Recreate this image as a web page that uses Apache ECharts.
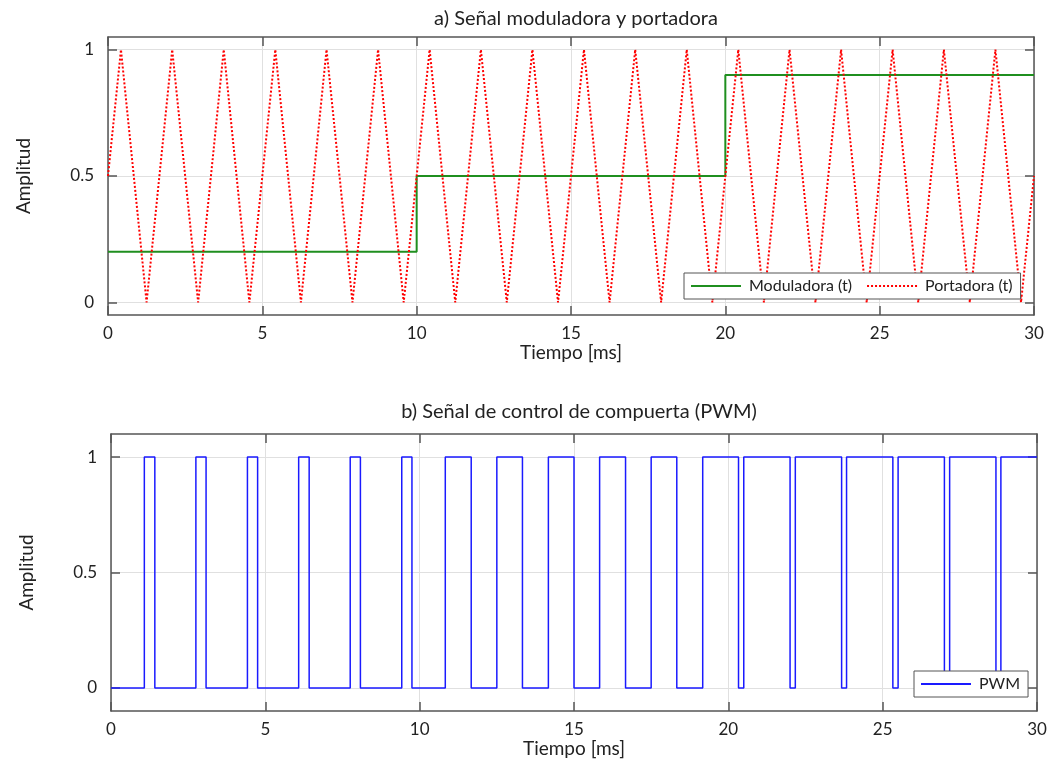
<!DOCTYPE html>
<html>
<head>
<meta charset="utf-8">
<script src="https://cdn.jsdelivr.net/npm/echarts@6/dist/echarts.min.js"></script>
<style>
  html, body { margin: 0; padding: 0; background: #fff; }
  #main { width: 1050px; height: 765px; }
</style>
</head>
<body>
<div id="main"></div>
<script>
// datos
const xTicks = [0, 5, 10, 15, 20, 25, 30];
const yTicks = [0, 0.5, 1];

// moduladora: escalones
const modT = [0, 10, 10, 20, 20, 30];
const modV = [0.2, 0.2, 0.5, 0.5, 0.9, 0.9];

// portadora: vertices del triangulo
const carrierT = [0, 0.42, 1.25, 2.08, 2.92, 3.75, 4.58, 5.42, 6.25, 7.08, 7.92, 8.75, 9.58,
  10.42, 11.25, 12.08, 12.92, 13.75, 14.58, 15.42, 16.25, 17.08, 17.92, 18.75, 19.58,
  20.42, 21.25, 22.08, 22.92, 23.75, 24.58, 25.42, 26.25, 27.08, 27.92, 28.75, 29.58, 30];
const carrierV = [0.5, 1, 0, 1, 0, 1, 0, 1, 0, 1, 0, 1, 0,
  1, 0, 1, 0, 1, 0, 1, 0, 1, 0, 1, 0,
  1, 0, 1, 0, 1, 0, 1, 0, 1, 0, 1, 0, 0.5];

// PWM: flancos de subida y bajada
const pwmRise = [1.08, 2.75, 4.42, 6.08, 7.75, 9.42, 10.83, 12.5, 14.17, 15.83, 17.5, 19.17,
  20.5, 22.17, 23.83, 25.5, 27.17, 28.83];
const pwmFall = [1.42, 3.08, 4.75, 6.42, 8.08, 9.75, 11.67, 13.33, 15.0, 16.67, 18.33, 20.33,
  22.0, 23.67, 25.33, 27.0, 28.67];

const modData = modT.map((t, i) => [t, modV[i]]);
const carrierData = carrierT.map((t, i) => [t, carrierV[i]]);

let pwmData = [[0, 0]];
pwmRise.forEach((r, i) => {
  pwmData.push([r, 0], [r, 1]);
  if (i < pwmFall.length) {
    pwmData.push([pwmFall[i], 1], [pwmFall[i], 0]);
  }
});
pwmData.push([30, 1]);

const FONT = 'Lato';
const axisCol = '#555';

function xAx(grid, pos, main) {
  return {
    type: 'value', gridIndex: grid, position: pos, min: 0, max: 30, interval: 5,
    name: main ? 'Tiempo [ms]' : '', nameLocation: 'middle', nameGap: 27,
    nameTextStyle: { fontFamily: FONT, fontSize: 19, color: '#222' },
    axisLine: { show: true, onZero: false, lineStyle: { color: axisCol, width: 1.5 } },
    axisTick: { show: true, inside: true, length: 9, lineStyle: { color: axisCol, width: 1.5 } },
    axisLabel: { show: main, fontFamily: FONT, fontSize: 17, color: '#222', margin: 10 },
    splitLine: { show: main, lineStyle: { color: '#e0e0e0', width: 1 } }
  };
}

function yAx(grid, pos, main, lo, hi) {
  return {
    type: 'value', gridIndex: grid, position: pos, min: lo, max: hi,
    name: main ? 'Amplitud' : '', nameLocation: 'middle', nameGap: 75, nameRotate: 90,
    nameTextStyle: { fontFamily: FONT, fontSize: 19, color: '#222' },
    axisLine: { show: true, onZero: false, lineStyle: { color: axisCol, width: 1.5 } },
    axisTick: { show: true, inside: true, length: 9, customValues: yTicks, lineStyle: { color: axisCol, width: 1.5 } },
    axisLabel: { show: main, customValues: yTicks, fontFamily: FONT, fontSize: 17, color: '#222', margin: 14 },
    splitLine: { show: main, lineStyle: { color: '#e0e0e0', width: 1 } }
  };
}

const legendBase = {
  orient: 'horizontal', itemWidth: 50, itemHeight: 10, itemGap: 14, z: 20,
  padding: [5, 8, 5, 6], borderColor: '#555', borderWidth: 1, backgroundColor: '#fff',
  itemStyle: { opacity: 0 },
  textStyle: { fontFamily: FONT, fontSize: 16, color: '#222', padding: [0, 0, 0, 3] }
};

const chart = echarts.init(document.getElementById('main'));
chart.setOption({
  backgroundColor: '#fff',
  animation: false,
  title: [
    { text: 'a) Señal moduladora y portadora', left: 571, top: 4, textAlign: 'center',
      textStyle: { fontFamily: FONT, fontSize: 20, fontWeight: 'normal', color: '#222' } },
    { text: 'b) Señal de control de compuerta (PWM)', left: 574, top: 397, textAlign: 'center',
      textStyle: { fontFamily: FONT, fontSize: 20, fontWeight: 'normal', color: '#222' } }
  ],
  legend: [
    Object.assign({}, legendBase, { data: ['Moduladora (t)', 'Portadora (t)'], left: 684, top: 273 }),
    Object.assign({}, legendBase, { data: ['PWM'], left: 914, top: 671 })
  ],
  grid: [
    { left: 108, top: 37, width: 926, height: 278 },
    { left: 111, top: 434, width: 926, height: 277 }
  ],
  xAxis: [
    xAx(0, 'bottom', true), xAx(0, 'top', false),
    xAx(1, 'bottom', true), xAx(1, 'top', false)
  ],
  yAxis: [
    yAx(0, 'left', true, -0.05, 1.05), yAx(0, 'right', false, -0.05, 1.05),
    yAx(1, 'left', true, -0.1, 1.1), yAx(1, 'right', false, -0.1, 1.1)
  ],
  series: [
    { name: 'Moduladora (t)', type: 'line', xAxisIndex: 0, yAxisIndex: 0, data: modData,
      symbol: 'none', color: '#1f8f1f', lineStyle: { color: '#1f8f1f', width: 2 }, z: 3 },
    { name: 'Portadora (t)', type: 'line', xAxisIndex: 0, yAxisIndex: 0, data: carrierData,
      symbol: 'none', color: '#ff0000', lineStyle: { color: '#ff0000', width: 2, type: [2, 2] }, z: 4 },
    { name: 'PWM', type: 'line', xAxisIndex: 2, yAxisIndex: 2, data: pwmData,
      symbol: 'none', color: '#1a1aff', lineStyle: { color: '#1a1aff', width: 1.5 }, z: 3 }
  ]
});
</script>
</body>
</html>
